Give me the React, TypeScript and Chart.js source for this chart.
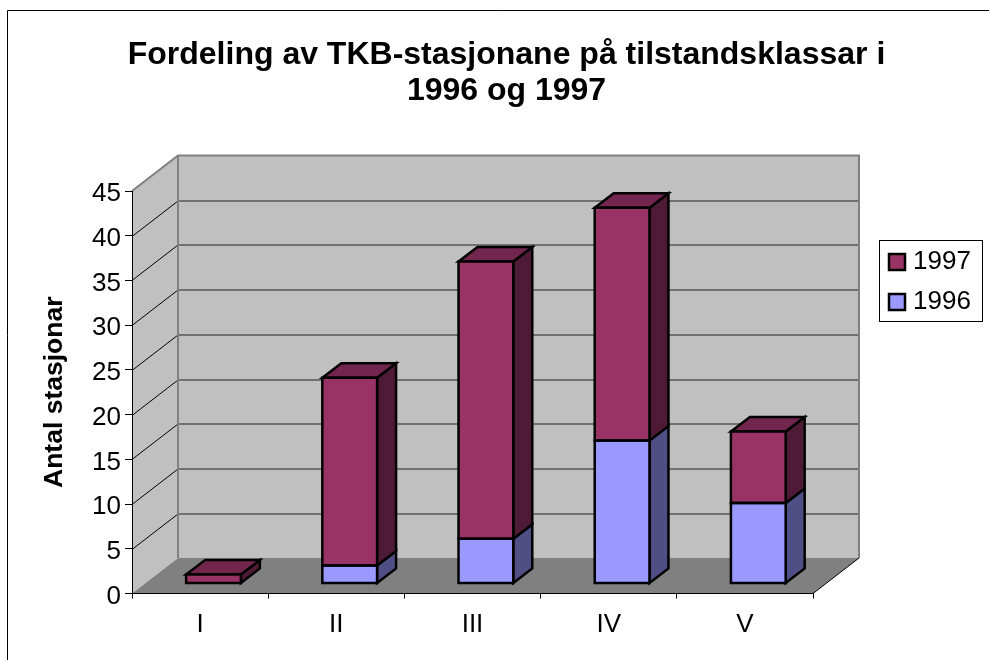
import React, { useEffect, useRef } from "react";
import { Chart, registerables } from "chart.js";

Chart.register(...registerables);

const categories = ["I", "II", "III", "IV", "V"];
const series1996 = [0, 2, 5, 16, 9];
const series1997 = [1, 21, 31, 26, 8];
const titleLines = ["Fordeling av TKB-stasjonane på tilstandsklassar i", "1996 og 1997"];
const yTitle = "Antal stasjonar";

const FONT = "'Liberation Sans', Arial, sans-serif";
const DEPTH_X = 46;
const DEPTH_Y = 35.5;
const BAR_OFF_X = 13.4;
const BAR_OFF_Y = 10;
const BAR_D_X = 19;
const BAR_D_Y = 14.5;
const BAR_LINE = 2.5;

function poly(ctx: CanvasRenderingContext2D, pts: number[][], fill: string | null, stroke: string | null, lw = 1) {
  ctx.beginPath();
  pts.forEach((p, i) => (i ? ctx.lineTo(p[0], p[1]) : ctx.moveTo(p[0], p[1])));
  ctx.closePath();
  if (fill) {
    ctx.fillStyle = fill;
    ctx.fill();
  }
  if (stroke) {
    ctx.strokeStyle = stroke;
    ctx.lineWidth = lw;
    ctx.lineJoin = "miter";
    ctx.stroke();
  }
}

const frame3d = {
  id: "frame3d",
  afterLayout(chart: any) {
    // title is centred on the whole picture, legend sits in its own framed box
    const title = chart.titleBlock;
    title.left = 24;
    title.right = 989;
    const lg = chart.legend;
    lg.left = 880;
    lg.right = 983;
    lg.top = 235;
    lg.bottom = 345;
    lg.width = lg.right - lg.left;
    lg.height = lg.bottom - lg.top;
  },
  beforeDraw(chart: any) {
    const { ctx, chartArea: a, scales } = chart;
    ctx.save();
    ctx.strokeStyle = "#000";
    ctx.lineWidth = 1;
    ctx.beginPath();
    ctx.moveTo(7.5, 660);
    ctx.lineTo(7.5, 10.5);
    ctx.lineTo(989, 10.5);
    ctx.stroke();

    // legend frame
    ctx.strokeRect(879.5, 240.5, 103, 81);

    const L = a.left, R = a.right, T = a.top, B = a.bottom;
    poly(ctx, [[L, B], [L + DEPTH_X, B - DEPTH_Y], [L + DEPTH_X, T - DEPTH_Y], [L, T]], "#c0c0c0", null);
    poly(ctx, [[L + DEPTH_X, B - DEPTH_Y], [R + DEPTH_X, B - DEPTH_Y], [R + DEPTH_X, T - DEPTH_Y], [L + DEPTH_X, T - DEPTH_Y]], "#c0c0c0", null);
    poly(ctx, [[L, B], [R, B], [R + DEPTH_X, B - DEPTH_Y], [L + DEPTH_X, B - DEPTH_Y]], "#808080", null);

    // value gridlines on the side and back walls
    const y = scales.y;
    y.ticks.forEach((t: any) => {
      if (t.value === 0 || t.value === 45) return;
      const py = Math.round(y.getPixelForValue(t.value)) + 0.5;
      ctx.strokeStyle = "#000";
      ctx.lineWidth = 1;
      ctx.beginPath();
      ctx.moveTo(L, py);
      ctx.lineTo(L + DEPTH_X, py - DEPTH_Y);
      ctx.stroke();
      ctx.strokeStyle = "#222";
      ctx.beginPath();
      ctx.moveTo(L + DEPTH_X, py - DEPTH_Y);
      ctx.lineTo(R + DEPTH_X, py - DEPTH_Y);
      ctx.stroke();
    });

    // wall edges
    ctx.strokeStyle = "#808080";
    ctx.lineWidth = 2;
    ctx.beginPath();
    ctx.moveTo(L, T);
    ctx.lineTo(L + DEPTH_X, T - DEPTH_Y);
    ctx.lineTo(R + DEPTH_X, T - DEPTH_Y);
    ctx.lineTo(R + DEPTH_X, B - DEPTH_Y);
    ctx.moveTo(L + DEPTH_X, T - DEPTH_Y);
    ctx.lineTo(L + DEPTH_X, B - DEPTH_Y);
    ctx.stroke();

    // right floor edge
    ctx.strokeStyle = "#000";
    ctx.lineWidth = 1;
    ctx.beginPath();
    ctx.moveTo(R, B);
    ctx.lineTo(R + DEPTH_X, B - DEPTH_Y);
    ctx.stroke();
    ctx.restore();
  },
  beforeDatasetsDraw(chart: any) {
    // depth faces of each stack
    const { ctx } = chart;
    const metas = chart.getSortedVisibleDatasetMetas();
    const n = categories.length;
    ctx.save();
    ctx.translate(BAR_OFF_X, -BAR_OFF_Y);
    for (let i = 0; i < n; i++) {
      metas.forEach((meta: any, si: number) => {
        const el = meta.data[i];
        const ds = chart.data.datasets[meta.index];
        if (!ds.data[i]) return;
        const { x, y, base, width } = el.getProps(["x", "y", "base", "width"], true);
        const l = x - width / 2, r = x + width / 2;
        poly(ctx, [[r, base], [r + BAR_D_X, base - BAR_D_Y], [r + BAR_D_X, y - BAR_D_Y], [r, y]], ds.sideColor, "#000", BAR_LINE);
        const above = metas.slice(si + 1).some((m: any) => chart.data.datasets[m.index].data[i]);
        if (!above) {
          poly(ctx, [[l, y], [r, y], [r + BAR_D_X, y - BAR_D_Y], [l + BAR_D_X, y - BAR_D_Y]], ds.topColor, "#000", BAR_LINE);
        }
      });
    }
    ctx.restore();
  },
  beforeDatasetDraw(chart: any) {
    chart.ctx.save();
    chart.ctx.translate(BAR_OFF_X, -BAR_OFF_Y);
  },
  afterDatasetDraw(chart: any) {
    chart.ctx.restore();
  },
  afterDatasetsDraw(chart: any) {
    // front-face outlines, centred on each bar's edges
    const { ctx } = chart;
    ctx.save();
    ctx.translate(BAR_OFF_X, -BAR_OFF_Y);
    chart.getSortedVisibleDatasetMetas().forEach((meta: any) => {
      const ds = chart.data.datasets[meta.index];
      meta.data.forEach((el: any, i: number) => {
        if (!ds.data[i]) return;
        const { x, y, base, width } = el.getProps(["x", "y", "base", "width"], true);
        const l = x - width / 2, r = x + width / 2;
        poly(ctx, [[l, base], [r, base], [r, y], [l, y]], null, "#000", BAR_LINE);
      });
    });
    ctx.restore();
  },
};

export default function App() {
  const ref = useRef<HTMLCanvasElement>(null);
  useEffect(() => {
    const chart = new Chart(ref.current as HTMLCanvasElement, {
      type: "bar",
      plugins: [frame3d],
      data: {
        labels: categories,
        datasets: [
          {
            label: "1996",
            data: series1996,
            backgroundColor: "#9999ff",
            borderWidth: 0,
            sideColor: "#4f4f85",
            topColor: "#7a7acc",
          } as any,
          {
            label: "1997",
            data: series1997,
            backgroundColor: "#993366",
            borderWidth: 0,
            sideColor: "#4f1a35",
            topColor: "#73264d",
          } as any,
        ],
      },
      options: {
        responsive: false,
        animation: false,
        layout: { padding: { left: 24, right: 176, top: 0, bottom: 0 } },
        datasets: { bar: { categoryPercentage: 1, barPercentage: 0.402 } },
        plugins: {
          tooltip: { enabled: false },
          title: {
            display: true,
            text: titleLines,
            color: "#000",
            font: { family: FONT, size: 32, weight: "bold", lineHeight: 36 / 32 },
            padding: { top: 37, bottom: 82 },
          },
          legend: {
            display: true,
            position: "chartArea",
            align: "start",
            reverse: true,
            labels: {
              color: "#000",
              font: { family: FONT, size: 26 },
              usePointStyle: true,
              pointStyle: "rect",
              boxWidth: 6,
              boxHeight: 16,
              padding: 14,
              generateLabels(chart: any) {
                const items = Chart.defaults.plugins.legend.labels.generateLabels(chart);
                items.forEach((item: any) => {
                  item.lineWidth = BAR_LINE;
                  item.strokeStyle = "#000";
                });
                return items;
              },
            },
          },
        },
        scales: {
          x: {
            stacked: true,
            position: "bottom",
            afterFit(s: any) { s.height = 66.5; },
            grid: {
              offset: true,
              drawOnChartArea: false,
              drawTicks: true,
              tickLength: 5,
              tickColor: "#000",
              color: "#000",
            },
            border: { display: true, color: "#000", width: 1 },
            ticks: {
              color: "#000",
              font: { family: FONT, size: 26 },
              padding: 11,
              autoSkip: false,
              maxRotation: 0,
            },
          },
          y: {
            stacked: true,
            min: 0,
            max: 45,
            afterFit(s: any) { s.width = 108; },
            title: {
              display: true,
              text: yTitle,
              color: "#000",
              font: { family: FONT, size: 26.5, weight: "bold", lineHeight: 1.2 },
              padding: { top: 15, bottom: 0 },
            },
            grid: {
              drawOnChartArea: false,
              drawTicks: true,
              tickLength: 7,
              tickColor: "#000",
              color: "#000",
            },
            border: { display: true, color: "#000", width: 1 },
            ticks: {
              stepSize: 5,
              color: "#000",
              font: { family: FONT, size: 26 },
              padding: 4,
              labelOffset: 3,
            },
          },
        },
      },
    } as any);
    return () => chart.destroy();
  }, []);
  return <canvas ref={ref} width={989} height={660} style={{ position: "absolute", left: 0, top: 0 }} />;
}
